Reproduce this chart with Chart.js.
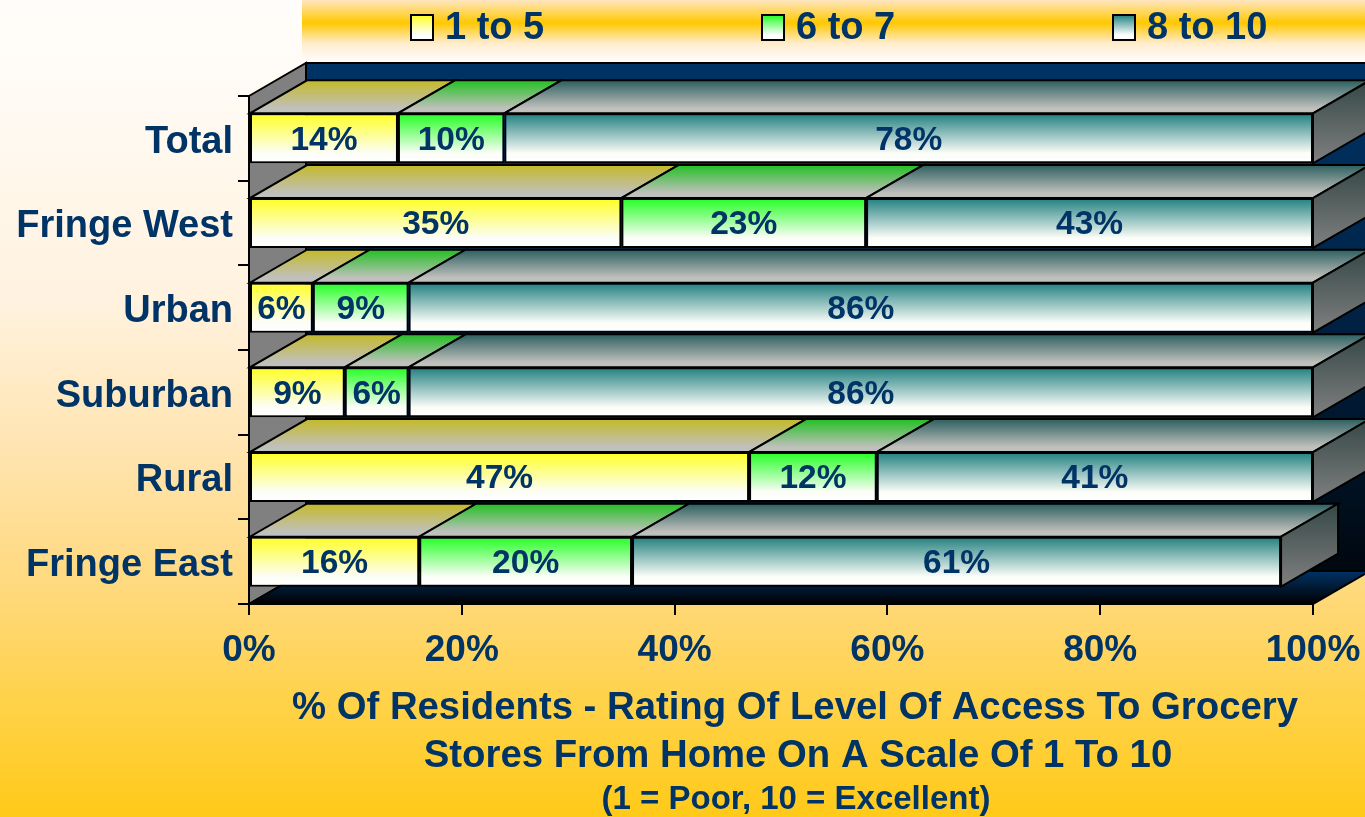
<!DOCTYPE html>
<html lang="en">
<head>
<meta charset="utf-8">
<title>Access To Grocery Stores</title>
<script src="https://cdn.jsdelivr.net/npm/chart.js"></script>
<style>
  html, body { margin: 0; padding: 0; background: #ffcc11; }
  #wrap { width: 1365px; height: 817px; }
</style>
</head>
<body>
<div id="wrap"><canvas id="accessChart" width="1365" height="817"></canvas></div>
<script>
  const categories = ['Total', 'Fringe West', 'Urban', 'Suburban', 'Rural', 'Fringe East'];
  const seriesNames = ['1 to 5', '6 to 7', '8 to 10'];

  // bar lengths as drawn on the axis (%)
  const rating1to5 = [14, 35, 6, 9, 47, 16];
  const rating6to7 = [10, 23, 9, 6, 12, 20];
  const rating8to10 = [76, 42, 85, 85, 41, 61];

  // percentages printed on the bars
  const printed1to5 = [14, 35, 6, 9, 47, 16];
  const printed6to7 = [10, 23, 9, 6, 12, 20];
  const printed8to10 = [78, 43, 86, 86, 41, 61];

  const xTicks = [0, 20, 40, 60, 80, 100];
  const titleLines = [
    '% Of Residents - Rating Of Level Of Access To Grocery',
    'Stores From Home On A Scale Of 1 To 10',
    '(1 = Poor, 10 = Excellent)'
  ];

  const NAVY = '#003366';
  const FRONT = ['#ffff22', '#22ff22', '#1f7f7f'];
  const TOPC = ['#c4ba28', '#22c022', '#2c5f5f'];
  const DX = 57, DY = 33;       // 3d depth offset
  const BAR_PCT = 0.59;
  const FONT = 'Liberation Sans, Arial, sans-serif';

  function frontFill(ctx, k) {
    const chart = ctx.chart, ca = chart.chartArea;
    if (!ca || ctx.type !== 'data') return FRONT[k];
    const y = chart.scales.y.getPixelForValue(ctx.dataIndex);
    const h = (ca.bottom - ca.top) / categories.length * BAR_PCT;
    const g = chart.ctx.createLinearGradient(0, y - h / 2, 0, y + h / 2);
    g.addColorStop(0, FRONT[k]);
    g.addColorStop(0.8, '#fcfdf8');
    g.addColorStop(1, '#ffffff');
    return g;
  }

  function poly(c, pts, fill) {
    c.beginPath();
    c.moveTo(pts[0][0], pts[0][1]);
    for (let i = 1; i < pts.length; i++) c.lineTo(pts[i][0], pts[i][1]);
    c.closePath();
    c.fillStyle = fill;
    c.fill();
    c.lineWidth = 2;
    c.strokeStyle = '#000';
    c.stroke();
  }

  const scene = {
    id: 'scene',
    beforeDraw(chart) {
      const c = chart.ctx, W = chart.width, H = chart.height;
      c.save();
      const bg = c.createLinearGradient(0, 0, 0, H);
      bg.addColorStop(0, '#fffdfa');
      bg.addColorStop(60 / 817, '#fffcf7');
      bg.addColorStop(300 / 817, '#fff2df');
      bg.addColorStop(450 / 817, '#ffe4b0');
      bg.addColorStop(600 / 817, '#ffd878');
      bg.addColorStop(700 / 817, '#ffd24a');
      bg.addColorStop(1, '#ffca18');
      c.fillStyle = bg;
      c.fillRect(0, 0, W, H);
      // legend band
      const lb = c.createLinearGradient(0, 0, 0, 60);
      lb.addColorStop(0, '#ffe6c0');
      lb.addColorStop(0.38, '#ffc800');
      lb.addColorStop(0.72, '#ffeccc');
      lb.addColorStop(1, '#fffcf8');
      c.fillStyle = lb;
      c.fillRect(302, 0, W - 302, 60);
      c.restore();
    },
    beforeDatasetsDraw(chart) {
      const c = chart.ctx, a = chart.chartArea;
      c.save();
      // back wall
      const bw = c.createLinearGradient(0, a.top - DY, 0, a.bottom - DY);
      bw.addColorStop(0, '#003366');
      bw.addColorStop(0.45, '#002448');
      bw.addColorStop(1, '#000810');
      poly(c, [[a.left + DX, a.top - DY], [a.right + DX, a.top - DY], [a.right + DX, a.bottom - DY], [a.left + DX, a.bottom - DY]], bw);
      // left wall
      poly(c, [[a.left, a.top], [a.left + DX, a.top - DY], [a.left + DX, a.bottom - DY], [a.left, a.bottom]], '#808080');
      // floor
      const fl = c.createLinearGradient(0, a.bottom - DY, 0, a.bottom);
      fl.addColorStop(0, '#003366');
      fl.addColorStop(1, '#000000');
      poly(c, [[a.left, a.bottom], [a.right, a.bottom], [a.right + DX, a.bottom - DY], [a.left + DX, a.bottom - DY]], fl);
      c.restore();
    },
    afterDatasetsDraw(chart) {
      const c = chart.ctx;
      const printed = [printed1to5, printed6to7, printed8to10];
      c.save();
      for (let i = 0; i < categories.length; i++) {
        let last = null;
        for (let k = 0; k < seriesNames.length; k++) {
          const el = chart.getDatasetMeta(k).data[i];
          const x0 = Math.min(el.base, el.x), x1 = Math.max(el.base, el.x);
          const yT = el.y - el.height / 2;
          const g = c.createLinearGradient(0, yT - DY, 0, yT);
          g.addColorStop(0, TOPC[k]);
          g.addColorStop(0.85, '#c0c0bc');
          g.addColorStop(1, '#c0c0c0');
          poly(c, [[x0, yT], [x1, yT], [x1 + DX, yT - DY], [x0 + DX, yT - DY]], g);
          last = el;
        }
        const xe = Math.max(last.base, last.x);
        const yT = last.y - last.height / 2, yB = last.y + last.height / 2;
        const sg = c.createLinearGradient(0, yT - DY, 0, yB);
        sg.addColorStop(0, '#354846');
        sg.addColorStop(1, '#808080');
        poly(c, [[xe, yT], [xe + DX, yT - DY], [xe + DX, yB - DY], [xe, yB]], sg);
      }
      // value labels
      c.fillStyle = NAVY;
      c.font = 'bold 33.5px ' + FONT;
      c.textAlign = 'center';
      c.textBaseline = 'middle';
      for (let k = 0; k < seriesNames.length; k++) {
        chart.getDatasetMeta(k).data.forEach((el, i) => {
          c.fillText(printed[k][i] + '%', (el.x + el.base) / 2, el.y + 2);
        });
      }
      c.restore();
    },
    afterDraw(chart) {
      const c = chart.ctx;
      c.save();
      // legend
      c.font = 'bold 38px ' + FONT;
      c.textBaseline = 'middle';
      c.textAlign = 'left';
      seriesNames.forEach((name, k) => {
        const bx = 411 + k * 351;
        const g = c.createLinearGradient(0, 15, 0, 40);
        g.addColorStop(0, FRONT[k]);
        g.addColorStop(0.8, '#ffffff');
        c.fillStyle = g;
        c.fillRect(bx, 15, 22, 25);
        c.lineWidth = 2;
        c.strokeStyle = '#000';
        c.strokeRect(bx, 15, 22, 25);
        c.fillStyle = NAVY;
        c.fillText(name, bx + 34, 29);
      });
      // axis title
      c.textAlign = 'center';
      c.font = 'bold 38.3px ' + FONT;
      c.fillText(titleLines[0], 795, 708);
      c.fillText(titleLines[1], 798, 756);
      c.font = 'bold 33px ' + FONT;
      c.fillText(titleLines[2], 796, 800);
      c.restore();
    }
  };

  const datasets = [rating1to5, rating6to7, rating8to10].map((vals, k) => ({
    label: seriesNames[k],
    data: vals,
    backgroundColor: ctx => frontFill(ctx, k),
    borderColor: '#000',
    borderWidth: 2,
    borderSkipped: false,
    categoryPercentage: 1,
    barPercentage: BAR_PCT
  }));

  new Chart(document.getElementById('accessChart'), {
    type: 'bar',
    data: { labels: categories, datasets: datasets },
    plugins: [scene],
    options: {
      indexAxis: 'y',
      responsive: false,
      devicePixelRatio: 1,
      animation: false,
      layout: { padding: { top: 96, right: 52, left: 0, bottom: 0 } },
      plugins: { legend: { display: false }, title: { display: false }, tooltip: { enabled: false } },
      scales: {
        x: {
          stacked: true,
          min: 0,
          max: 100,
          afterBuildTicks: s => { s.ticks = xTicks.map(v => ({ value: v })); },
          afterFit: s => { s.height = 213; s.paddingLeft = 0; s.paddingRight = 0; },
          grid: { drawOnChartArea: false, tickLength: 11, color: '#000', lineWidth: 2 },
          border: { display: true, color: '#000', width: 2 },
          ticks: {
            padding: 14,
            color: NAVY,
            font: { family: FONT, size: 37, weight: 'bold' },
            callback: v => v + '%'
          }
        },
        y: {
          stacked: true,
          afterFit: s => { s.width = 249; },
          grid: { drawOnChartArea: false, tickLength: 11, color: '#000', lineWidth: 2 },
          border: { display: true, color: '#000', width: 2 },
          ticks: {
            padding: 5,
            labelOffset: 4,
            color: NAVY,
            font: { family: FONT, size: 38, weight: 'bold' }
          }
        }
      }
    }
  });
</script>
</body>
</html>
